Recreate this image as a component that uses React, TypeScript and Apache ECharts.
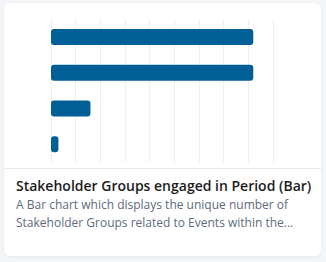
import React, { useEffect, useRef } from "react";
import * as echarts from "echarts";

const categories = ["Group 1", "Group 2", "Group 3", "Group 4"];
const values = [82, 82, 16, 3];
const axisMax = 90;
const axisInterval = 10;
const titleText = "Stakeholder Groups engaged in Period (Bar)";
const descLines = [
  "A Bar chart which displays the unique number of",
  "Stakeholder Groups related to Events within the...",
];

export default function App() {
  const ref = useRef<HTMLDivElement>(null);
  useEffect(() => {
    if (!ref.current) return;
    const chart = echarts.init(ref.current, undefined, { renderer: "svg" });
    chart.setOption({
      animation: false,
      backgroundColor: "transparent",
      grid: { left: 51, right: 53, top: 19, bottom: 100, containLabel: false },
      xAxis: {
        type: "value",
        min: 0,
        max: axisMax,
        interval: axisInterval,
        axisLabel: { show: false },
        axisLine: { show: false },
        axisTick: { show: false },
        splitLine: { show: true, lineStyle: { color: "#eceef2", width: 1 } },
      },
      yAxis: {
        type: "category",
        data: categories,
        inverse: true,
        axisLabel: { show: false },
        axisLine: { show: false },
        axisTick: { show: false },
        splitLine: { show: false },
      },
      series: [
        {
          type: "bar",
          data: values,
          barWidth: 16,
          itemStyle: { color: "#015f97", borderRadius: 3 },
        },
      ],
      graphic: [
        {
          type: "line",
          shape: { x1: 4, y1: 168.5, x2: 321, y2: 168.5 },
          style: { stroke: "#e6e8ec", lineWidth: 1 },
        },
        {
          type: "text",
          left: 16,
          top: 178,
          style: {
            text: titleText,
            font: "600 14px 'Open Sans'",
            fill: "#1c1c1c",
          },
        },
        {
          type: "text",
          left: 16,
          top: 195,
          style: {
            text: descLines.join("\n"),
            font: "12px 'Open Sans'",
            lineHeight: 18.4,
            fill: "#5d6b7e",
          },
        },
      ],
    });
    return () => chart.dispose();
  }, []);
  return (
    <div
      style={{
        position: "fixed",
        left: 0,
        top: 0,
        width: 326,
        height: 262,
        background: "#f3f5f9",
      }}
    >
      <div
        style={{
          position: "absolute",
          left: 4,
          top: 3,
          width: 317,
          height: 253,
          background: "#ffffff",
          borderRadius: 6,
          boxShadow: "0 1px 3px rgba(0,0,0,0.06)",
        }}
      />
      <div
        ref={ref}
        style={{ position: "absolute", left: 0, top: 0, width: 326, height: 262 }}
      />
    </div>
  );
}
